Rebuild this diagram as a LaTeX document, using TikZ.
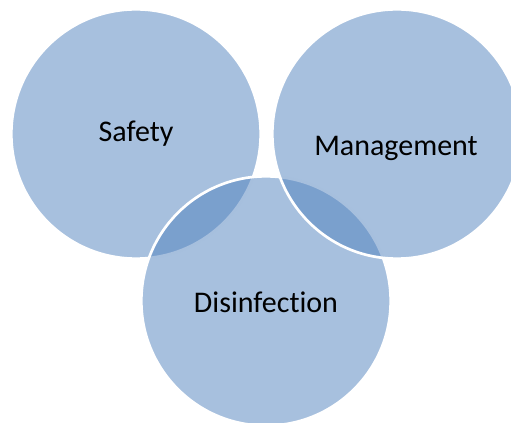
\documentclass[tikz,border=0pt]{standalone}
\usepackage{fontspec}
\setmainfont{Carlito}[Ligatures={NoCommon}]
\definecolor{officeblue}{HTML}{4F81BD}
\tikzset{
    vennset/.style={circle, minimum size=187pt, inner sep=0pt, fill=officeblue, fill opacity=0.5, draw=white, draw opacity=1, line width=2pt, text opacity=1},
    vennlabel/.style={text=black, font=\fontsize{22.5}{27}\selectfont}
}
\begin{document}
\begin{tikzpicture}[x=0.75pt,y=0.75pt,yscale=-1,xscale=1]
        \path [use as bounding box, clip] (0,0) rectangle (511,423);
        % circles, bottom one drawn last but under the right one
        \node [vennset] (safety) at (136,134) {};
        \node [vennset] (disinfection) at (266,301) {};
        \node [vennset] (management) at (397,134) {};
        % texts
        \node [vennlabel] (safetytext) at (safety.center) {Safety};
        \node [vennlabel] (disinfectiontext) at (266,302) {Disinfection};
        \node [vennlabel] (managementtext) at (396,148) {Management};
    \end{tikzpicture}
\end{document}
